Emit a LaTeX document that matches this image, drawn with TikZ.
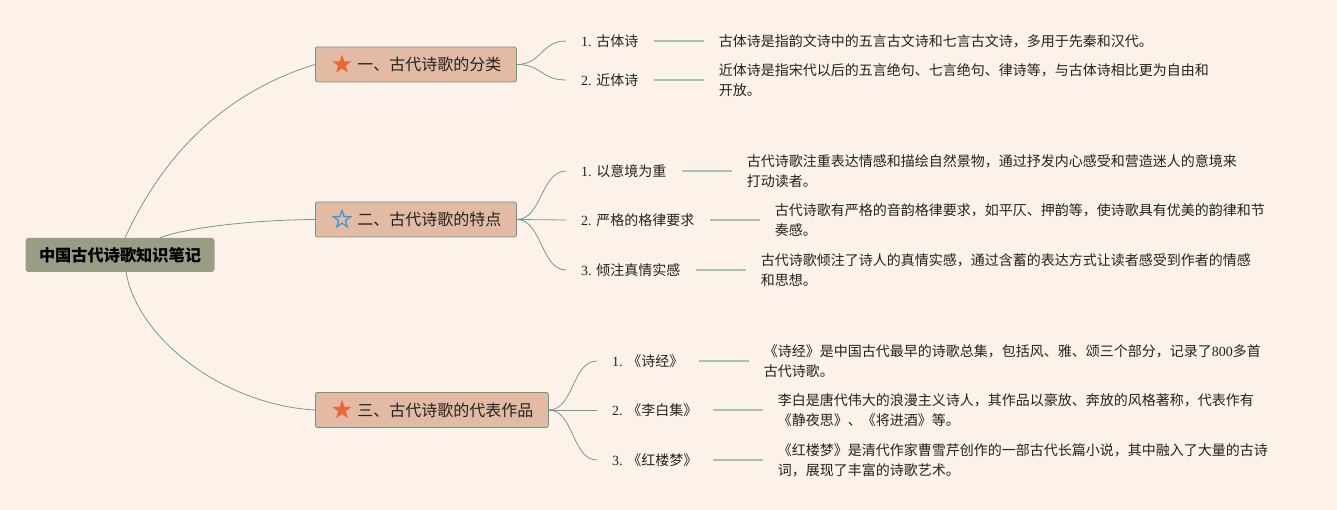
\documentclass[tikz,border=0pt]{standalone}
\usepackage{fontspec}
\setmainfont{Noto Sans CJK SC}
\newfontfamily\lat{Liberation Serif}
\usetikzlibrary{shapes.geometric}
\definecolor{bg}{HTML}{FDF2E9}
\definecolor{rootfill}{HTML}{9A9C86}
\definecolor{brfill}{HTML}{E3BBA4}
\definecolor{brdraw}{HTML}{6F9886}
\definecolor{curve}{HTML}{6F9C8B}
\definecolor{dline}{HTML}{A9C3B1}
\definecolor{txt}{HTML}{222222}
\definecolor{staror}{HTML}{E8683A}
\definecolor{starbl}{HTML}{3D9AD6}
\begin{document}
\begin{tikzpicture}[x=1pt,y=-1pt,
  rootbox/.style={fill=rootfill, rounded corners=3pt, minimum width=189pt, minimum height=34pt, inner sep=0pt, font=\fontsize{16.2}{16}\selectfont\bfseries, text=black},
  branch/.style={fill=brfill, draw=brdraw, line width=0.8pt, rounded corners=2pt, minimum height=35pt, inner xsep=15pt, inner ysep=0pt, anchor=west, font=\fontsize{16}{16}\selectfont, text=txt},
  leaf/.style={anchor=west, inner xsep=15pt, inner ysep=2pt, font=\fontsize{14}{20}\selectfont, text=txt},
  desc/.style={anchor=west, inner xsep=15pt, inner ysep=2pt, align=left, font=\fontsize{14}{20}\selectfont, text=txt},
  conn/.style={draw=curve, line width=0.8pt},
  dl/.style={draw=dline, line width=1.6pt},
  starf/.style={star, star points=5, star point ratio=2.5, minimum size=20pt, inner sep=0pt, fill=staror},
  staro/.style={star, star points=5, star point ratio=2.5, minimum size=18pt, inner sep=0pt, draw=starbl, line width=1.3pt}
]
\fill[bg] (0,0) rectangle (1337,510);
\useasboundingbox (0,0) rectangle (1337,510);

% root
\node[rootbox] (root) at (120,255) {中国古代诗歌知识笔记};

% branches
\node[branch] (b1) at (315,64.5) {\hspace{27pt}一、古代诗歌的分类};
\node[branch] (b2) at (315,219.5) {\hspace{27pt}二、古代诗歌的特点};
\node[branch] (b3) at (315,410) {\hspace{27pt}三、古代诗歌的代表作品};
\node[starf] (s1) at ([xshift=27pt]b1.west) {};
\node[staro] (s2) at ([xshift=27pt]b2.west) {};
\node[starf] (s3) at ([xshift=27pt]b3.west) {};

\draw[conn] ([xshift=5pt]root.north) .. controls (166,149) and (229,91) .. (b1.west);
\draw[conn] ([xshift=40pt]root.north) .. controls (185,228) and (250,220) .. (b2.west);
\draw[conn] ([xshift=6pt]root.south) .. controls (138,340) and (225,405) .. (b3.west);

% branch 1 leaves
\node[leaf] (l11) at (566,41) {{\lat 1. }古体诗};
\node[leaf] (l12) at (566,80) {{\lat 2. }近体诗};
\node[desc] (d11) at ([xshift=50pt]l11.east) {古体诗是指韵文诗中的五言古文诗和七言古文诗，多用于先秦和汉代。};
\node[desc] (d12) at ([xshift=50pt]l12.east) {近体诗是指宋代以后的五言绝句、七言绝句、律诗等，与古体诗相比更为自由和\\开放。};
\draw[conn] (b1.east) .. controls +(25,0) and +(-25,0) .. (l11.west);
\draw[conn] (b1.east) .. controls +(25,0) and +(-25,0) .. (l12.west);
\draw[dl] (l11.east) -- (d11.west);
\draw[dl] (l12.east) -- (d12.west);

% branch 2 leaves
\node[leaf] (l21) at (566,171) {{\lat 1. }以意境为重};
\node[leaf] (l22) at (566,220) {{\lat 2. }严格的格律要求};
\node[leaf] (l23) at (566,270) {{\lat 3. }倾注真情实感};
\node[desc] (d21) at ([xshift=50pt]l21.east) {古代诗歌注重表达情感和描绘自然景物，通过抒发内心感受和营造迷人的意境来\\打动读者。};
\node[desc] (d22) at ([xshift=50pt]l22.east) {古代诗歌有严格的音韵格律要求，如平仄、押韵等，使诗歌具有优美的韵律和节\\奏感。};
\node[desc] (d23) at ([xshift=50pt]l23.east) {古代诗歌倾注了诗人的真情实感，通过含蓄的表达方式让读者感受到作者的情感\\和思想。};
\draw[conn] (b2.east) .. controls +(25,0) and +(-25,0) .. (l21.west);
\draw[conn] (b2.east) -- (l22.west);
\draw[conn] (b2.east) .. controls +(25,0) and +(-25,0) .. (l23.west);
\draw[dl] (l21.east) -- (d21.west);
\draw[dl] (l22.east) -- (d22.west);
\draw[dl] (l23.east) -- (d23.west);

% branch 3 leaves
\node[leaf] (l31) at (597,361) {{\lat 1. }《诗经》};
\node[leaf] (l32) at (597,410) {{\lat 2. }《李白集》};
\node[leaf] (l33) at (597,460) {{\lat 3. }《红楼梦》};
\node[desc] (d31) at ([xshift=50pt]l31.east) {《诗经》是中国古代最早的诗歌总集，包括风、雅、颂三个部分，记录了{\lat 800}多首\\古代诗歌。};
\node[desc] (d32) at ([xshift=50pt]l32.east) {李白是唐代伟大的浪漫主义诗人，其作品以豪放、奔放的风格著称，代表作有\\《静夜思》、《将进酒》等。};
\node[desc] (d33) at ([xshift=50pt]l33.east) {《红楼梦》是清代作家曹雪芹创作的一部古代长篇小说，其中融入了大量的古诗\\词，展现了丰富的诗歌艺术。};
\draw[conn] (b3.east) .. controls +(25,0) and +(-25,0) .. (l31.west);
\draw[conn] (b3.east) -- (l32.west);
\draw[conn] (b3.east) .. controls +(25,0) and +(-25,0) .. (l33.west);
\draw[dl] (l31.east) -- (d31.west);
\draw[dl] (l32.east) -- (d32.west);
\draw[dl] (l33.east) -- (d33.west);
\end{tikzpicture}
\end{document}
